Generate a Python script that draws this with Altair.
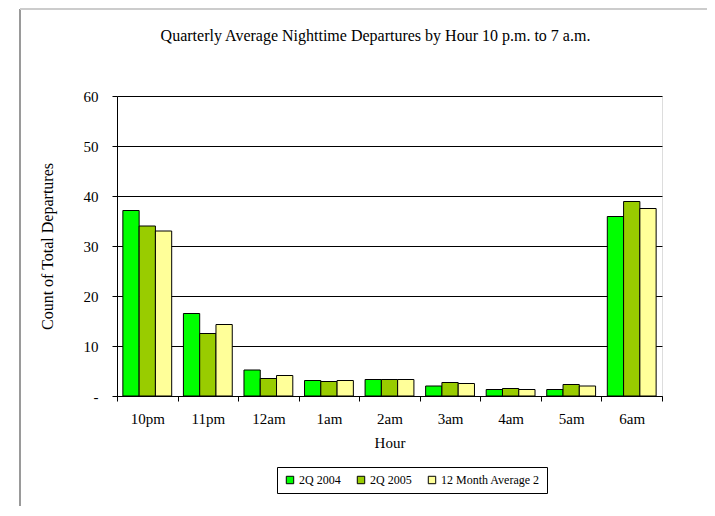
import altair as alt
import pandas as pd

hours = ["10pm", "11pm", "12am", "1am", "2am", "3am", "4am", "5am", "6am"]
series = ["2Q 2004", "2Q 2005", "12 Month Average 2"]
q2_2004 = [37.1, 16.5, 5.2, 3.1, 3.3, 2.0, 1.3, 1.3, 35.9]
q2_2005 = [34.0, 12.5, 3.5, 2.9, 3.3, 2.7, 1.5, 2.3, 38.9]
avg_12m = [33.0, 14.3, 4.1, 3.1, 3.3, 2.5, 1.3, 2.0, 37.5]
colors = ["#00FF00", "#99CC00", "#FFFF99"]

rows = []
for s, vals in zip(series, [q2_2004, q2_2005, avg_12m]):
    for h, v in zip(hours, vals):
        rows.append({"Hour": h, "Series": s, "Value": v})
df = pd.DataFrame(rows)

FONT = "Liberation Serif"

bars = alt.Chart(df).mark_bar(stroke="black", strokeWidth=1).encode(
    x=alt.X("Hour:N", sort=hours,
            scale=alt.Scale(paddingInner=0, paddingOuter=0),
            axis=alt.Axis(title="Hour", labelAngle=0, tickBand="extent",
                          domainColor="black", tickColor="black", tickSize=5,
                          labelPadding=10, titlePadding=9, labelFont=FONT,
                          titleFont=FONT, labelFontSize=15, titleFontSize=15,
                          titleFontWeight="normal", labelColor="black",
                          titleColor="black", grid=False)),
    xOffset=alt.XOffset("Series:N", sort=series,
                        scale=alt.Scale(paddingInner=0, paddingOuter=0.36)),
    y=alt.Y("Value:Q", scale=alt.Scale(domain=[0, 60]),
            axis=alt.Axis(title="Count of Total Departures", values=[0, 10, 20, 30, 40, 50, 60],
                          labelExpr="datum.value == 0 ? '-' : datum.label",
                          domainColor="black", tickColor="black", tickSize=5,
                          gridColor="black", gridWidth=1, labelPadding=14,
                          titlePadding=28, labelFont=FONT, titleFont=FONT,
                          labelFontSize=15, titleFontSize=16,
                          titleFontWeight="normal", labelColor="black",
                          titleColor="black")),
    color=alt.Color("Series:N", sort=series,
                    scale=alt.Scale(domain=series, range=colors),
                    legend=alt.Legend(title=None, orient="none", legendX=160, legendY=371,
                                      direction="horizontal", symbolType="square",
                                      symbolSize=55, symbolStrokeColor="black",
                                      symbolStrokeWidth=1, labelFont=FONT,
                                      labelFontSize=12, labelColor="black",
                                      strokeColor="black", padding=7,
                                      columnPadding=14, labelOffset=3)),
)

frame_left = alt.Chart(df).mark_rule(color="#999999", strokeWidth=1, clip=False).encode(
    x=alt.value(-97), y=alt.value(-87), y2=alt.value(420))
frame_top = alt.Chart(df).mark_rule(color="#cccccc", strokeWidth=2, clip=False).encode(
    x=alt.value(-97), x2=alt.value(640), y=alt.value(-87))

chart = alt.layer(frame_left, frame_top, bars).properties(
    width=545, height=300,
    autosize=alt.AutoSizeParams(type="none"),
    padding={"left": 109, "top": 88, "right": 45, "bottom": 110},
    title=alt.TitleParams("Quarterly Average Nighttime Departures by Hour 10 p.m. to 7 a.m.",
                          font=FONT, fontSize=16, fontWeight="normal", color="black",
                          anchor="middle", dx=-14, offset=-36),
).configure_view(stroke="#888888", strokeWidth=1).configure(background="white")

chart.save("out.html", embed_options={"renderer": "svg", "actions": False})
